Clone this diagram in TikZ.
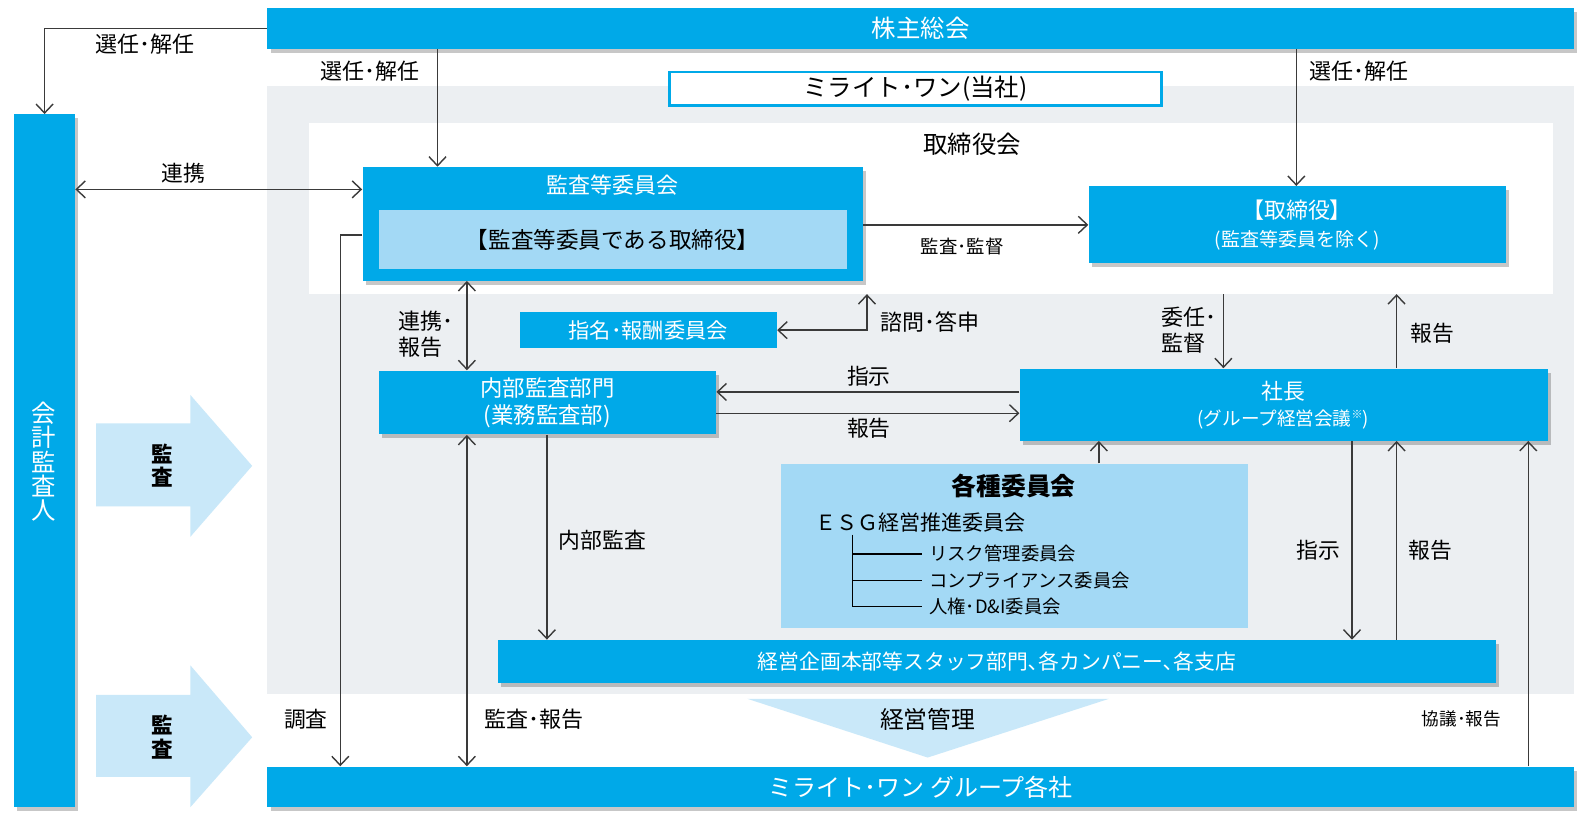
\documentclass[tikz,border=0pt]{standalone}
\usepackage{fontspec}
\setmainfont{Noto Sans CJK JP}
\newfontfamily\pfont{Noto Sans CJK JP}[RawFeature=+palt]
\usetikzlibrary{arrows.meta,shadows,fit,calc}
\definecolor{mblue}{HTML}{00A9E8}
\definecolor{lblue}{HTML}{A3D9F5}
\definecolor{pblue}{HTML}{C9E8F9}
\definecolor{gbg}{HTML}{ECEFF2}
\definecolor{ln}{HTML}{3A3A3A}
\tikzset{
  shd/.style={drop shadow={shadow xshift=1.6pt,shadow yshift=-2pt,opacity=0.22,fill=black}},
  bx/.style={fill=mblue,inner sep=0pt},
  bxs/.style={bx,shd},
  conn/.style={draw=ln,line width=0.7pt,>={Straight Barb[length=4.5pt,width=8.5pt]}},
  lbl/.style={inner sep=0pt,text=black,align=left},
  wt/.style={inner sep=0pt,text=white,align=center},
  fA/.style={font=\fontsize{12.2pt}{14pt}\selectfont},
  fB/.style={font=\fontsize{11pt}{13.5pt}\selectfont},
  fC/.style={font=\fontsize{10.9pt}{12.8pt}\selectfont},
  fD/.style={font=\fontsize{9.2pt}{11pt}\selectfont},
  fE/.style={font=\fontsize{8.8pt}{10pt}\selectfont},
}
\begin{document}
\begin{tikzpicture}[x={(0.5064pt,0)},y={(0,-0.5064pt)}]
\useasboundingbox (0,0) rectangle (1568,815);
\fill[white] (0,0) rectangle (1568,815);

% background regions
\node[fill=gbg,inner sep=0pt,fit={(264,85)(1554,685)}] (gray) {};
\node[fill=white,inner sep=0pt,fit={(305,121)(1533,290)}] (board) {};
\node[lbl,fA] (boardlbl) at (960,142) {取締役会};

% block arrows
\fill[pblue] (95,418) -- (188,418) -- (188,390) -- (249,460) -- (188,530) -- (188,500) -- (95,500) -- cycle;
\fill[pblue] (95,686) -- (188,686) -- (188,657) -- (249,728) -- (188,797) -- (188,767) -- (95,767) -- cycle;
\node[lbl,align=center,font=\fontsize{10.8pt}{11.7pt}\selectfont\bfseries] (audit1) at (160,460) {監\\査};
\node[lbl,align=center,font=\fontsize{10.8pt}{11.7pt}\selectfont\bfseries] (audit2) at (160,728) {監\\査};

% management triangle
\fill[pblue] (738,690) -- (1095,690) -- (916,748) -- cycle;
\node[lbl,font=\fontsize{11.9pt}{14pt}\selectfont] (keieikanri) at (916,710) {経営管理};

% boxes
\node[bxs,fit={(264,8)(1554,48)}] (kabu) {};
\node[wt,fA] (kabut) at (kabu.center) {株主総会};

\node[bxs,fit={(14,113)(74,797)}] (kaikei) {};
\node[wt,font=\fontsize{12.2pt}{12.2pt}\selectfont] (kaikeit) at (43,456) {会\\計\\監\\査\\人};

\node[draw=mblue,line width=1.2pt,fill=white,inner sep=0pt,fit={(661,71)(1147,104)}] (mirait) {};
\node[lbl,fA] (miraitt) at (mirait.center) {ミライト･ワン(当社)};

\node[bxs,fit={(358,165)(852,277)}] (kansa) {};
\node[wt,fB] (kansat) at (605,183) {監査等委員会};
\node[fill=lblue,inner sep=0pt,fit={(374,207)(836,266)}] (kansain) {};
\node[lbl,font=\fontsize{11.3pt}{13pt}\selectfont] (kansaint) at (kansain.center) {【監査等委員である取締役】};

\node[bxs,fit={(1075,184)(1487,260)}] (tori) {};
\node[wt,fB] (torit1) at (1281,207) {{\pfont 【}取締役{\pfont 】}};
\node[wt,font=\fontsize{9.5pt}{11pt}\selectfont] (torit2) at (1281,237) {(監査等委員を除く)};

\node[bx,fit={(513,308)(767,344)}] (shimei) {};
\node[wt,font=\fontsize{10.6pt}{12pt}\selectfont] (shimeit) at (shimei.center) {指名･報酬委員会};

\node[bxs,fit={(374,366)(707,429)}] (naibu) {};
\node[wt,font=\fontsize{11.2pt}{13.7pt}\selectfont] (naibut) at (naibu.center) {内部監査部門\\(業務監査部)};

\node[bxs,fit={(1007,364)(1528,435)}] (shacho) {};
\node[wt,fC] (shachot1) at (1267,386) {社長};
\node[wt,font=\fontsize{9.3pt}{11pt}\selectfont] (shachot2) at (1267,414) {(グループ経営会議\raisebox{0.35em}{\fontsize{5.5pt}{6pt}\selectfont ※})};

\node[fill=lblue,inner sep=0pt,fit={(771,458)(1232,620)}] (kakushu) {};
\node[lbl,font=\fontsize{12.4pt}{14pt}\selectfont\bfseries] (kakushut) at (1001,480) {各種委員会};
\node[lbl,font=\fontsize{10.5pt}{12pt}\selectfont,anchor=west] (esg) at (805,516) {ＥＳＧ経営推進委員会};
\draw[black,line width=0.7pt] (842,528) -- (842,599) -- (910,599);
\draw[black,line width=0.7pt] (842,547) -- (910,547);
\draw[black,line width=0.7pt] (842,573) -- (910,573);
\node[lbl,fD,anchor=west] (risk) at (917,547) {リスク管理委員会};
\node[lbl,fD,anchor=west] (comp) at (917,573) {コンプライアンス委員会};
\node[lbl,fD,anchor=west] (jinken) at (917,599) {人権･D\&I委員会};

\node[bxs,fit={(492,632)(1477,674)}] (keiei) {};
\node[wt,font=\fontsize{10.4pt}{12pt}\selectfont] (keieit) at (keiei.center) {経営企画本部等スタッフ部門､各カンパニー､各支店};
\node[bxs,fit={(264,757)(1554,797)}] (group) {};
\node[wt,font=\fontsize{12pt}{14pt}\selectfont] (groupt) at (group.center) {ミライト･ワン グループ各社};

% helper coordinates
\coordinate (c187) at (0,187);
\coordinate (c232) at (0,232);
\coordinate (c387) at (0,387);
\coordinate (c408) at (0,408);
\coordinate (x336) at (336,0);
\coordinate (x432) at (432,0);
\coordinate (x461) at (461,0);
\coordinate (x540) at (540,0);
\coordinate (x856) at (856,0);
\coordinate (x1085) at (1085,0);
\coordinate (x1208) at (1208,0);
\coordinate (x1280) at (1280,0);
\coordinate (x1335) at (1335,0);
\coordinate (x1379) at (1379,0);
\coordinate (x1509) at (1509,0);

% connectors
\draw[conn,->] (kabu.west) -| (kaikei.north);
\draw[conn,->] (kabu.south -| x432) -- (kansa.north -| x432);
\draw[conn,->] (kabu.south -| x1280) -- (tori.north -| x1280);
\draw[conn,<->] (kaikei.east |- c187) -- (kansa.west |- c187);
\draw[conn,->] (kansa.east |- tori.west) -- (tori.west);
\draw[conn,->] (kansa.west |- c232) -| (group.north -| x336);
\draw[conn,<->] (kansa.south -| x461) -- (naibu.north -| x461);
\draw[conn,<->] (shimei.east) -| (board.south -| x856);
\draw[conn,->] (shacho.west |- c387) -- (naibu.east |- c387);
\draw[conn,->] (naibu.east |- c408) -- (shacho.west |- c408);
\draw[conn,->] (board.south -| x1208) -- (shacho.north -| x1208);
\draw[conn,->] (shacho.north -| x1379) -- (board.south -| x1379);
\draw[conn,->] (kakushu.north -| x1085) -- (shacho.south -| x1085);
\draw[conn,->] (shacho.south -| x1335) -- (keiei.north -| x1335);
\draw[conn,->] (keiei.north -| x1379) -- (shacho.south -| x1379);
\draw[conn,->] (group.north -| x1509) -- (shacho.south -| x1509);
\draw[conn,->] (naibu.south -| x540) -- (keiei.north -| x540);
\draw[conn,<->] (naibu.south -| x461) -- (group.north -| x461);

% connector labels
\node[lbl,fB] (l1) at (143,44) {選任･解任};
\node[lbl,fB] (l2) at (365,70) {選任･解任};
\node[lbl,fB] (l3) at (1342,70) {選任･解任};
\node[lbl,fC] (l4) at (181,171) {連携};
\node[lbl,fD] (l5) at (950,243) {監査･監督};
\node[lbl,fC] (l6) at (302,710) {調査};
\node[lbl,font=\fontsize{11pt}{12.6pt}\selectfont] (l7) at (421,330) {連携･\\報告};
\node[lbl,fB] (l8) at (918,318) {諮問･答申};
\node[lbl,fC] (l9) at (858,371) {指示};
\node[lbl,fC] (l10) at (858,423) {報告};
\node[lbl,font=\fontsize{11pt}{12.6pt}\selectfont] (l11) at (1174,326) {委任･\\監督};
\node[lbl,fC] (l12) at (1414,329) {報告};
\node[lbl,fC] (l13) at (1302,543) {指示};
\node[lbl,fC] (l14) at (1412,543) {報告};
\node[lbl,fE] (l15) at (1443,710) {協議･報告};
\node[lbl,fC] (l16) at (595,533) {内部監査};
\node[lbl,fB] (l17) at (527,710) {監査･報告};
\end{tikzpicture}
\end{document}
